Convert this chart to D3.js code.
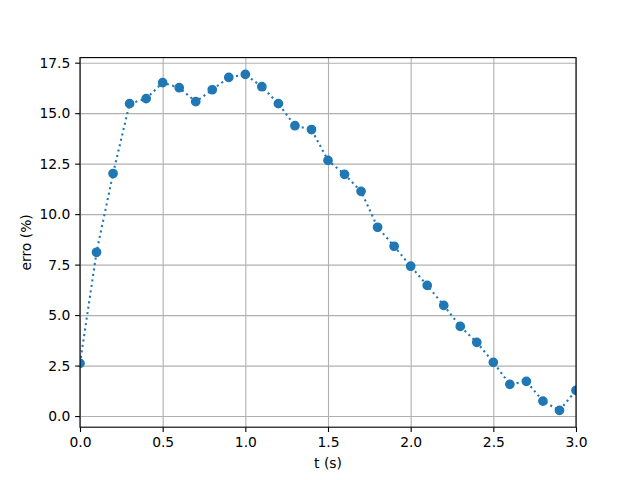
<!DOCTYPE html>
<html>
<head>
<meta charset="utf-8">
<script src="https://cdn.jsdelivr.net/npm/d3@7"></script>
<style>
  body { margin: 0; background: #fff; }
  svg { display: block; }
  text { font-family: "DejaVu Sans", sans-serif; }
</style>
</head>
<body>
<div id="chart"></div>
<script>
// tempo (s) e erro (%)
const tempo = [0.0, 0.1, 0.2, 0.3, 0.4, 0.5, 0.6, 0.7, 0.8, 0.9,
               1.0, 1.1, 1.2, 1.3, 1.4, 1.5, 1.6, 1.7, 1.8, 1.9,
               2.0, 2.1, 2.2, 2.3, 2.4, 2.5, 2.6, 2.7, 2.8, 2.9, 3.0];
const erro = [2.61, 8.11, 12.01, 15.47, 15.72, 16.51, 16.26, 15.57, 16.16, 16.77,
              16.92, 16.31, 15.47, 14.38, 14.19, 12.66, 11.97, 11.13, 9.35, 8.41,
              7.42, 6.47, 5.48, 4.44, 3.65, 2.66, 1.57, 1.72, 0.74, 0.28, 1.27];
const xTicks = [0, 0.5, 1.0, 1.5, 2.0, 2.5, 3.0];
const yTicks = [0, 2.5, 5.0, 7.5, 10.0, 12.5, 15.0, 17.5];

const data = tempo.map((t, i) => ({ t: t, e: erro[i] }));

const svgWidth = 640;
const svgHeight = 480;
const margin = { top: 57.6, right: 64, bottom: 52.8, left: 80 };
const width = svgWidth - margin.left - margin.right;
const height = svgHeight - margin.top - margin.bottom;
const pt = 100 / 72;

const svg = d3.select('#chart')
  .append('svg')
  .attr('width', svgWidth)
  .attr('height', svgHeight)
  .append('g')
  .attr('transform', `translate(${margin.left},${margin.top})`);

const xScale = d3.scaleLinear().domain([0, 3]).range([0, width]);

const [eMin, eMax] = d3.extent(erro);
const pad = (eMax - eMin) * 0.05;
const yScale = d3.scaleLinear().domain([eMin - pad, eMax + pad]).range([height, 0]);

// grade
svg.append('g')
  .attr('transform', `translate(0,${height})`)
  .call(d3.axisBottom(xScale).tickValues(xTicks).tickSize(-height).tickFormat(''))
  .call(g => g.select('.domain').remove())
  .selectAll('line').attr('stroke', '#b0b0b0').attr('stroke-width', 0.8 * pt);

svg.append('g')
  .call(d3.axisLeft(yScale).tickValues(yTicks).tickSize(-width).tickFormat(''))
  .call(g => g.select('.domain').remove())
  .selectAll('line').attr('stroke', '#b0b0b0').attr('stroke-width', 0.8 * pt);

svg.append('clipPath').attr('id', 'clip')
  .append('rect').attr('width', width).attr('height', height);

const plot = svg.append('g').attr('clip-path', 'url(#clip)');

const line = d3.line().x(d => xScale(d.t)).y(d => yScale(d.e));

plot.append('path')
  .datum(data)
  .attr('d', line)
  .attr('fill', 'none')
  .attr('stroke', '#1f77b4')
  .attr('stroke-width', 1.5 * pt)
  .attr('stroke-dasharray', `${1.5 * pt},${2.475 * pt}`);

plot.selectAll('.ponto')
  .data(data)
  .enter().append('circle')
  .attr('class', 'ponto')
  .attr('cx', d => xScale(d.t))
  .attr('cy', d => yScale(d.e))
  .attr('r', 3 * pt)
  .attr('fill', '#1f77b4')
  .attr('stroke', '#1f77b4')
  .attr('stroke-width', 1 * pt);

// eixos
const xAxis = svg.append('g')
  .attr('transform', `translate(0,${height})`)
  .call(d3.axisBottom(xScale).tickValues(xTicks).tickSize(3.5 * pt).tickPadding(3.5 * pt)
    .tickFormat(d3.format('.1f')));

const yAxis = svg.append('g')
  .call(d3.axisLeft(yScale).tickValues(yTicks).tickSize(3.5 * pt).tickPadding(3.5 * pt)
    .tickFormat(d3.format('.1f')));

[xAxis, yAxis].forEach(a => {
  a.select('.domain').remove();
  a.selectAll('line').attr('stroke', '#000').attr('stroke-width', 0.8 * pt);
  a.selectAll('text').attr('fill', '#000').style('font-size', (10 * pt) + 'px')
    .style('font-family', '"DejaVu Sans", sans-serif');
});

// moldura
svg.append('rect')
  .attr('width', width)
  .attr('height', height)
  .attr('fill', 'none')
  .attr('stroke', '#000')
  .attr('stroke-width', 0.8 * pt);

// rotulo do eixo X
svg.append('text')
  .attr('x', width / 2)
  .attr('y', height + 41)
  .attr('text-anchor', 'middle')
  .style('font-size', (10 * pt) + 'px')
  .text('t (s)');

// rotulo do eixo Y
svg.append('text')
  .attr('transform', 'rotate(-90)')
  .attr('x', -height / 2)
  .attr('y', -49.5)
  .attr('text-anchor', 'middle')
  .style('font-size', (10 * pt) + 'px')
  .text('erro (%)');
</script>
</body>
</html>
